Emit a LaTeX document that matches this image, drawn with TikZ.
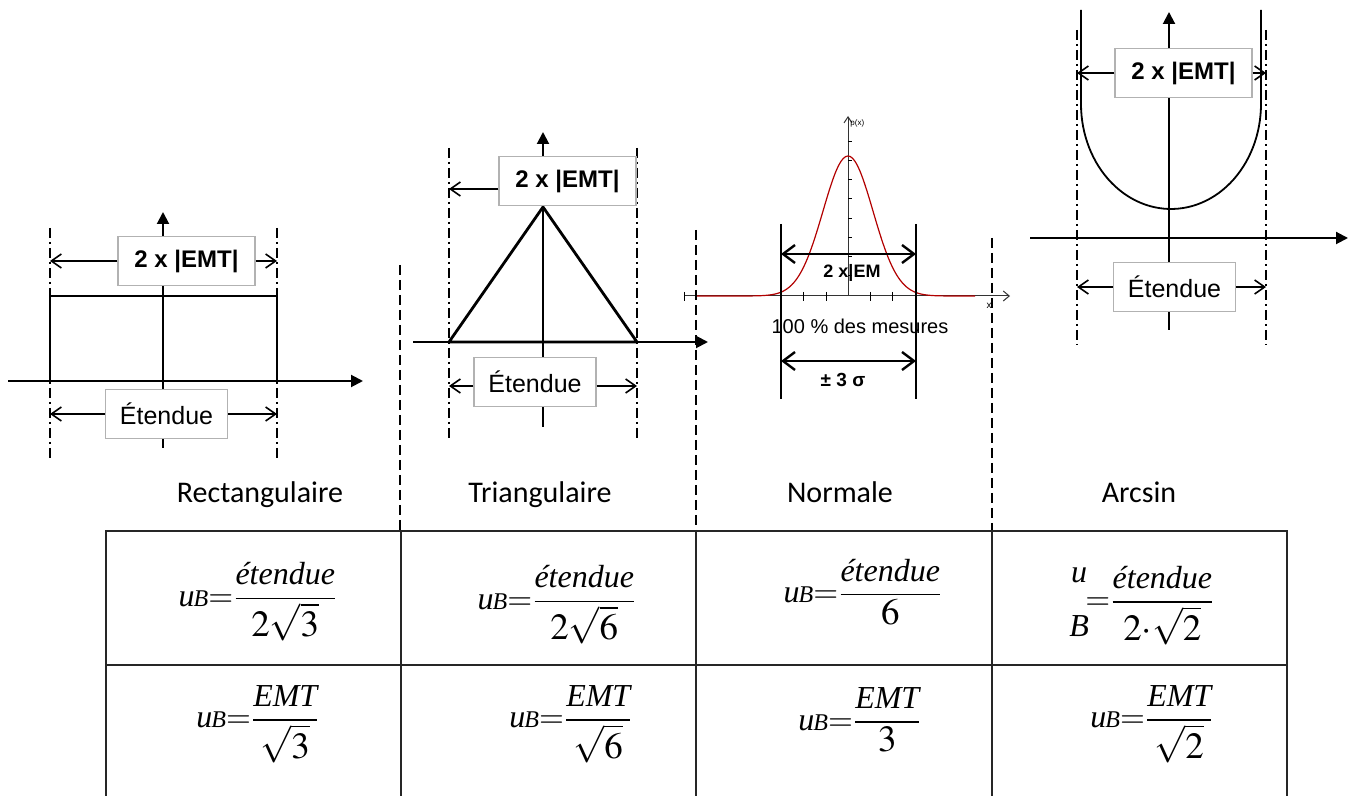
\documentclass[tikz,border=0pt]{standalone}
\usepackage{amsmath}
\usepackage{mathptmx}
\usepackage[no-math]{fontspec}
\setmainfont{Carlito}
\newfontfamily\arial{Liberation Sans}
\newfontfamily\tnr{Liberation Serif}
\usetikzlibrary{arrows.meta}
\newcommand{\ital}[1]{\mbox{\tnr\itshape #1}}
\newcommand{\uB}{\ital{u\kern-.5pt{\fontsize{12}{12}\selectfont B}}}
\newcommand{\den}[1]{\mbox{\fontsize{18.5}{21}\selectfont$#1$}}

\begin{document}
\begin{tikzpicture}[x=0.5pt,y=-0.5pt,
  axis/.style={line width=1pt,-{Triangle[length=6pt,width=6pt]}},
  dashdot/.style={line width=0.6pt,dash pattern=on 5pt off 2pt on 1pt off 2pt},
  sep/.style={line width=0.7pt,dash pattern=on 5pt off 2.5pt},
  dim/.style={line width=0.8pt,-{Straight Barb[length=5pt,width=7pt]}},
  embox/.style={draw=black!30,fill=white,line width=0.6pt,minimum width=68.5pt,minimum height=24.5pt,font=\arial\bfseries\fontsize{12}{14}\selectfont},
  etbox/.style={draw=black!30,fill=white,line width=0.6pt,minimum width=61pt,minimum height=24.5pt,font=\arial\fontsize{12.5}{14}\selectfont},
  law/.style={font=\fontsize{15}{18}\selectfont,anchor=base},
  formula/.style={font=\fontsize{16}{19}\selectfont},
  grid/.style={line width=1pt,black!85}]
\useasboundingbox (0,0) rectangle (1356,796);

% rectangulaire
\draw[axis] (8,381) -- (363,381);
\draw[axis] (163,448) -- (163,212);
\draw[line width=1pt] (50,381) -- (50,296) -- (277,296) -- (277,381);
\draw[dashdot] (50,228) coordinate (ra) -- (50,460);
\draw[dashdot] (277,228) coordinate (rb) -- (277,460);
\node[embox] (remt) at (186.5,261) {2 x |EMT|};
\node[etbox] (ret) at (166.5,414) {Étendue};
\draw[dim] (remt.west) -- (remt.west -| ra);
\draw[dim] (remt.east) -- (remt.east -| rb);
\draw[dim] (ret.west) -- (ret.west -| ra);
\draw[dim] (ret.east) -- (ret.east -| rb);
\node[law] (lrect) at (260,503) {Rectangulaire};

% triangulaire
\draw[axis] (413,342) -- (708,342);
\draw[axis] (543,427) -- (543,132);
\draw[line width=1.4pt,line join=round] (449,342) -- (543,207) -- (637,342) -- cycle;
\draw[dashdot] (449,148) coordinate (ta) -- (449,440);
\draw[dashdot] (637,148) coordinate (tb) -- (637,440);
\node[embox] (temt) at (567.5,181) {2 x |EMT|};
\node[etbox] (tet) at (535,382) {Étendue};
\draw[dim] ([yshift=-4pt]temt.west) -- ([yshift=-4pt]temt.west -| ta);
\draw[dim] ([yshift=-2pt]tet.west) -- ([yshift=-2pt]tet.west -| ta);
\draw[dim] ([yshift=-2pt]tet.east) -- ([yshift=-2pt]tet.east -| tb);
\node[law] (ltri) at (540,503) {Triangulaire};

% normale
\draw[line width=0.5pt,black!80,-{Straight Barb[length=3pt,width=5pt]}] (684,296) -- (1010,296);
\draw[line width=0.5pt] (684,292) -- (684,301);
\draw[line width=0.5pt,black!80,-{Straight Barb[length=3pt,width=4pt]}] (848,296) -- (848,116);
\foreach \t in {781,803,826,870,892,916}
  \draw[line width=0.5pt] (\t,292) -- (\t,301);
\foreach \t in {142,161,180,199,219,238,257,276}
  \draw[line width=0.5pt] (848,\t) -- (852,\t);
\draw[red!70!black,line width=0.6pt] plot[domain=695:975,samples=120,smooth]
  (\x,{296-140*exp(-((\x-848)/25)^2/2)});
\node[font=\arial\fontsize{4}{5}\selectfont,anchor=west,inner sep=0pt] (px) at (850,123) {p(x)};
\node[font=\arial\fontsize{5}{6}\selectfont,inner sep=0pt] (nx) at (989,306) {x};
\draw[line width=1pt] (781,224) coordinate (na) -- (781,399);
\draw[line width=1pt] (916,224) coordinate (nb) -- (916,399);
\coordinate (nc) at (781,254);
\coordinate (nd) at (916,254);
\coordinate (ne) at (781,361);
\coordinate (nf) at (916,361);
\draw[line width=1.2pt,{Straight Barb[length=6pt,width=9pt]}-{Straight Barb[length=6pt,width=9pt]}] (nc) -- (nd);
\draw[line width=1.2pt,{Straight Barb[length=6pt,width=9pt]}-{Straight Barb[length=6pt,width=9pt]}] (ne) -- (nf);
\node[font=\arial\bfseries\fontsize{9}{10}\selectfont,anchor=base] (nem) at (852,278) {2 x|EM};
\node[font=\arial\fontsize{10}{12}\selectfont,anchor=base] (nmes) at (860,334) {100 \% des mesures};
\node[font=\arial\bfseries\fontsize{9.5}{11}\selectfont,anchor=base] (nsig) at (843,387) {± 3 σ};
\node[law] (lnorm) at (840,503) {Normale};

% arcsin
\draw[axis] (1030,238) -- (1348,238);
\draw[axis] (1169,330) -- (1169,12);
\draw[line width=0.9pt] (1081,10) -- (1081,104) -- plot[domain=180:360,samples=60] ({1171+90*cos(\x)},{104-105*sin(\x)}) -- (1261,10);
\draw[dashdot] (1077,30) coordinate (aa) -- (1077,345);
\draw[dashdot] (1266,30) coordinate (ab) -- (1266,345);
\node[embox] (aemt) at (1183.5,73) {2 x |EMT|};
\node[etbox] (aet) at (1174.5,287) {Étendue};
\draw[dim] (aemt.west) -- (aemt.west -| aa);
\draw[dim] (aemt.east) -- (aemt.east -| ab);
\draw[dim] (aet.west) -- (aet.west -| aa);
\draw[dim] (aet.east) -- (aet.east -| ab);
\node[law] (larc) at (1139,503) {Arcsin};

% separations
\draw[sep] (400,265) -- (400,530);
\draw[sep] (696,230) -- (696,530);
\draw[sep] (992,238) -- (992,530);

% tableau
\draw[grid] (106,796) -- (106,531) -- (1287,531) -- (1287,796);
\draw[grid] (106,665) -- (1287,665);
\foreach \c in {401,696,992}
  \draw[grid] (\c,531) -- (\c,796);

\node[formula] (f11) at (258,602) {$\uB{=}\dfrac{\ital{étendue}}{\den{2\sqrt{3}}}$};
\node[formula] (f12) at (557,605) {$\uB{=}\dfrac{\ital{étendue}}{\den{2\sqrt{6}}}$};
\node[formula] (f13) at (863,592) {$\uB{=}\dfrac{\ital{étendue}}{\den{6}}$};
\node[formula] (f14) at (1142,602) {$\begin{array}{@{}c@{}}\ital{u}\\[8pt]\ital{B}\end{array}\!{=}\dfrac{\ital{étendue}}{\den{2{\cdot}\sqrt{2}}}$};
\node[formula] (f21) at (258,724) {$\uB{=}\dfrac{\ital{EMT}}{\den{\sqrt{3}}}$};
\node[formula] (f22) at (571,724) {$\uB{=}\dfrac{\ital{EMT}}{\den{\sqrt{6}}}$};
\node[formula] (f23) at (860,720) {$\uB{=}\dfrac{\ital{EMT}}{\den{3}}$};
\node[formula] (f24) at (1152,724) {$\uB{=}\dfrac{\ital{EMT}}{\den{\sqrt{2}}}$};
\end{tikzpicture}
\end{document}
